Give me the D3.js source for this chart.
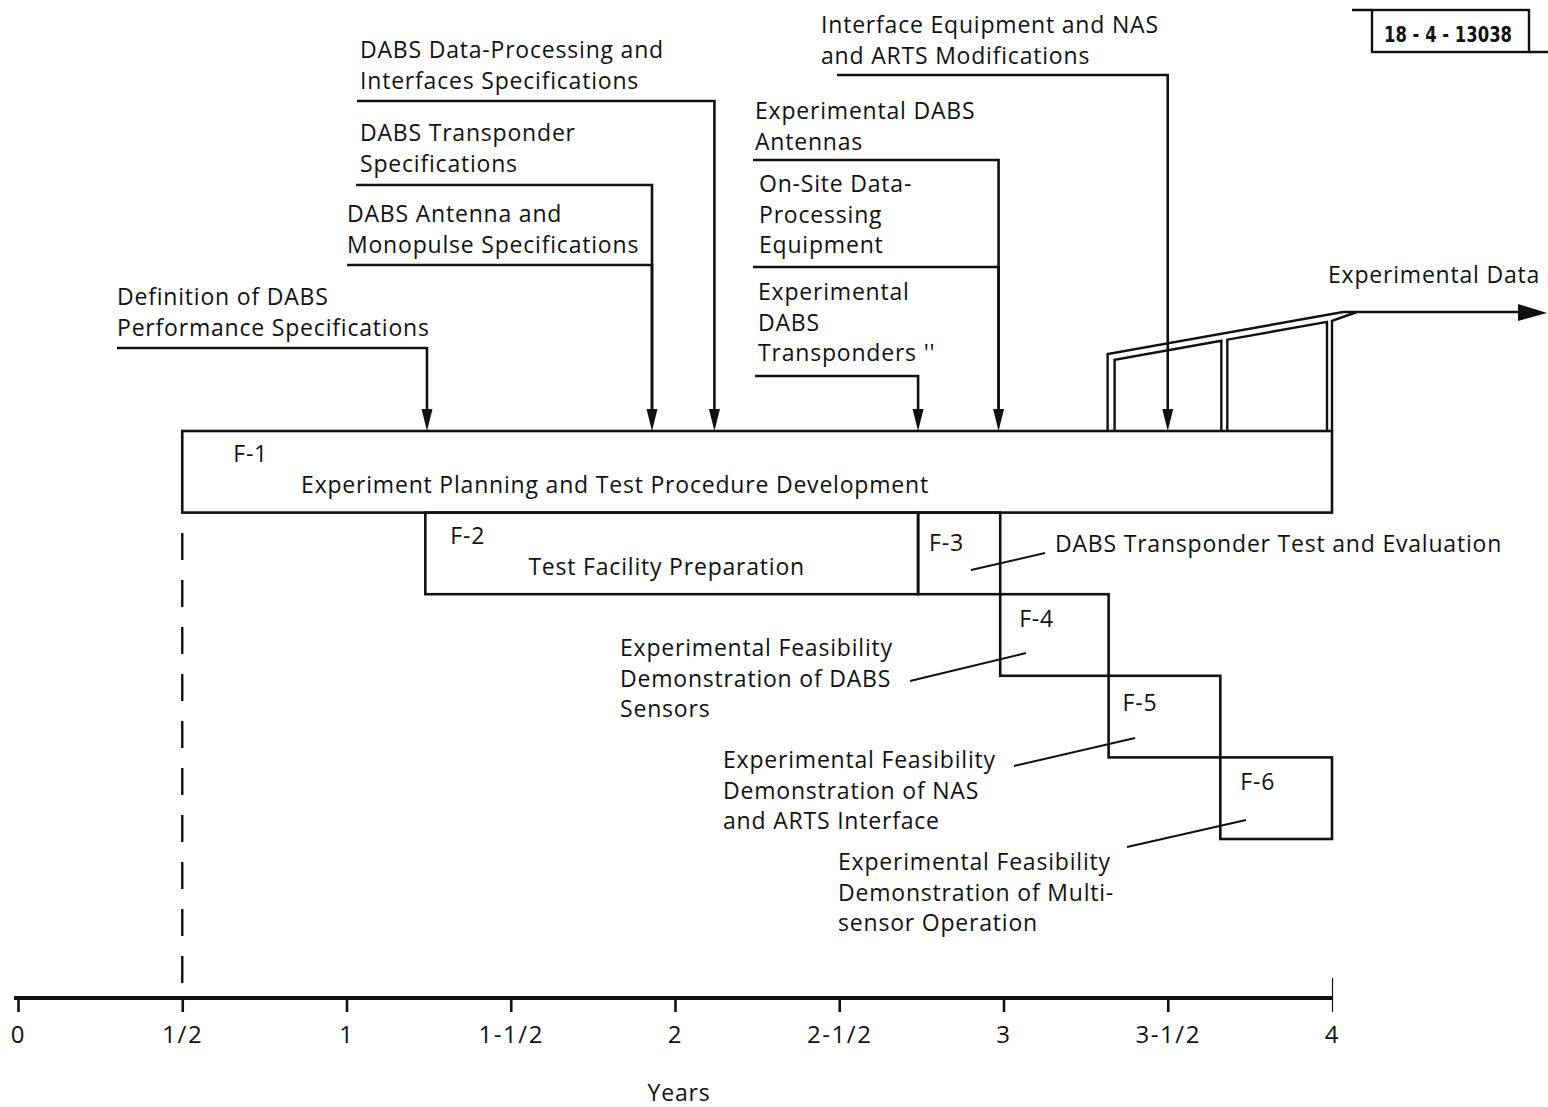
<!DOCTYPE html>
<html>
<head>
<meta charset="utf-8">
<script src="https://cdn.jsdelivr.net/npm/d3@7"></script>
<style>
  body { margin: 0; background: #fff; }
  svg text { font-family: "Open Sans", "DejaVu Sans", sans-serif; fill: #111; letter-spacing: 0.8px; }
</style>
</head>
<body>
<div id="chart"></div>
<script>
// Phases of the experiment (years from program start)
const phaseIds = ["F-1", "F-2", "F-3", "F-4", "F-5", "F-6"];
const phaseStart = [0.5, 1.24, 2.74, 2.99, 3.32, 3.66];
const phaseEnd = [4.0, 2.74, 2.99, 3.32, 3.66, 4.0];
const phaseRow = [0, 1, 1, 2, 3, 4];
const phaseTitles = ["Experiment Planning and Test Procedure Development", "Test Facility Preparation", "", "", "", ""];

// Descriptions pointed at the later phases
const calloutPhase = ["F-3", "F-4", "F-5", "F-6"];
const calloutText = [
    ["DABS Transponder Test and Evaluation"],
    ["Experimental Feasibility", "Demonstration of DABS", "Sensors"],
    ["Experimental Feasibility", "Demonstration of NAS", "and ARTS Interface"],
    ["Experimental Feasibility", "Demonstration of Multi-", "sensor Operation"]
];

// Inputs feeding into F-1 (arrow lands at the given year)
const inputLabels = [
    ["Definition of DABS", "Performance Specifications"],
    ["DABS Antenna and", "Monopulse Specifications"],
    ["DABS Transponder", "Specifications"],
    ["DABS Data-Processing and", "Interfaces Specifications"],
    ["Experimental", "DABS", "Transponders ''"],
    ["On-Site Data-", "Processing", "Equipment"],
    ["Experimental DABS", "Antennas"],
    ["Interface Equipment and NAS", "and ARTS Modifications"]
];
const inputYears = [1.245, 1.93, 1.93, 2.12, 2.74, 2.985, 2.985, 3.5];

// Years axis
const tickValues = [0, 0.5, 1, 1.5, 2, 2.5, 3, 3.5, 4];
const tickLabels = ["0", "1/2", "1", "1-1/2", "2", "2-1/2", "3", "3-1/2", "4"];

// ---- layout (pixels) ----
const W = 1548, H = 1107;
const fs = 23;
const labelLayout = [   // text left, first baseline, underline y, underline start
    {x: 117, y: 305, uy: 348, ux: 117},
    {x: 347, y: 222, uy: 265, ux: 347},
    {x: 360, y: 141, uy: 185, ux: 356},
    {x: 360, y: 58, uy: 101, ux: 357},
    {x: 758, y: 300, uy: 376, ux: 755},
    {x: 759, y: 192, uy: 267, ux: 753},
    {x: 755, y: 119, uy: 160, ux: 753},
    {x: 821, y: 33, uy: 75, ux: 837}
];
const calloutLayout = [  // text left, first baseline, leader from, leader to
    {x: 1055, y: 552, x1: 971, y1: 570, x2: 1045, y2: 553},
    {x: 620, y: 656, x1: 910, y1: 681, x2: 1026, y2: 653},
    {x: 723, y: 768, x1: 1014, y1: 766, x2: 1135, y2: 738},
    {x: 838, y: 870, x1: 1127, y1: 847, x2: 1246, y2: 820}
];
const idOffset = [[51, 31], [25, 31], [11, 38], [19, 33], [14, 35], [20, 33]];
const lineGap = 30.5;

const svg = d3.select("#chart")
    .append("svg")
    .attr("width", W)
    .attr("height", H);

const x = d3.scaleLinear().domain([0, 4]).range([18, 1332]);
const y = d3.scaleBand().domain([0, 1, 2, 3, 4]).range([431, 839]).padding(0);

const ink = "#111";
const sw = 2.6;

// Phase boxes
svg.selectAll("rect.phase")
    .data(phaseIds)
    .enter()
    .append("rect")
    .attr("class", "phase")
    .attr("x", (d, i) => x(phaseStart[i]))
    .attr("y", (d, i) => y(phaseRow[i]))
    .attr("width", (d, i) => x(phaseEnd[i]) - x(phaseStart[i]))
    .attr("height", y.bandwidth())
    .attr("fill", "none")
    .attr("stroke", ink)
    .attr("stroke-width", sw);

svg.selectAll("text.pid")
    .data(phaseIds)
    .enter()
    .append("text")
    .attr("class", "pid")
    .attr("x", (d, i) => x(phaseStart[i]) + idOffset[i][0])
    .attr("y", (d, i) => y(phaseRow[i]) + idOffset[i][1])
    .attr("font-size", fs)
    .text(d => d);

phaseTitles.forEach((t, i) => {
    if (!t) return;
    svg.append("text")
        .attr("x", i === 0 ? 615 : (x(phaseStart[i]) + x(phaseEnd[i])) / 2 - 5)
        .attr("y", y(phaseRow[i]) + 62)
        .attr("text-anchor", "middle")
        .attr("font-size", fs)
        .text(t);
});

// Callouts
calloutText.forEach((lines, i) => {
    const L = calloutLayout[i];
    svg.append("line")
        .attr("x1", L.x1).attr("y1", L.y1)
        .attr("x2", L.x2).attr("y2", L.y2)
        .attr("stroke", ink).attr("stroke-width", 2);
    const t = svg.append("text").attr("font-size", fs);
    lines.forEach((s, k) => {
        t.append("tspan").attr("x", L.x).attr("y", L.y + k * lineGap).text(s);
    });
});

// Inputs with arrows into F-1
const top1 = y(0);
inputLabels.forEach((lines, i) => {
    const L = labelLayout[i];
    const ax = x(inputYears[i]);
    const t = svg.append("text").attr("font-size", fs);
    lines.forEach((s, k) => {
        t.append("tspan").attr("x", L.x).attr("y", L.y + k * lineGap).text(s);
    });
    svg.append("path")
        .attr("d", `M${L.ux},${L.uy}H${ax}V${top1 - 18}`)
        .attr("fill", "none")
        .attr("stroke", ink)
        .attr("stroke-width", sw);
});

// arrowheads (one per landing point)
Array.from(new Set(inputYears)).forEach(v => {
    const ax = x(v);
    svg.append("path")
        .attr("d", `M${ax - 5.5},${top1 - 22}L${ax + 5.5},${top1 - 22}L${ax},${top1}Z`)
        .attr("fill", ink);
});

// Experimental data feedback pipe
const p5 = x(phaseStart[4]), p6 = x(phaseStart[5]), pe = x(phaseEnd[5]);
const slope = (312 - 354) / (1343 - (p5 - 1));
const yAt = (px, off) => 354 + off + slope * (px - (p5 - 1));
const pipe = d3.path();
pipe.moveTo(p5 - 1, top1); pipe.lineTo(p5 - 1, yAt(p5 - 1, 0)); pipe.lineTo(1343, 312); pipe.lineTo(1522, 312);
pipe.moveTo(p5 + 6, top1); pipe.lineTo(p5 + 6, yAt(p5 + 6, 7)); pipe.lineTo(p6 + 1, yAt(p6 + 1, 7)); pipe.lineTo(p6 + 1, top1);
pipe.moveTo(p6 + 7, top1); pipe.lineTo(p6 + 7, yAt(p6 + 7, 7)); pipe.lineTo(pe - 5, yAt(pe - 5, 7)); pipe.lineTo(pe - 5, top1);
pipe.moveTo(pe, top1); pipe.lineTo(pe, yAt(pe, 7)); pipe.lineTo(1357, 312);
svg.append("path")
    .attr("d", pipe.toString())
    .attr("fill", "none")
    .attr("stroke", ink)
    .attr("stroke-width", 2.4)
    .attr("stroke-linejoin", "miter");
svg.append("path")
    .attr("d", "M1518,304L1547,313L1518,321Z")
    .attr("fill", ink);
svg.append("text")
    .attr("x", 1328).attr("y", 283)
    .attr("font-size", fs)
    .text("Experimental Data");

// Dashed marker at 1/2 year
svg.append("line")
    .attr("x1", x(0.5)).attr("x2", x(0.5))
    .attr("y1", 533).attr("y2", 990)
    .attr("stroke", ink)
    .attr("stroke-width", 2.4)
    .attr("stroke-dasharray", "27,20");

// Years axis
const axisY = 998;
const axis = svg.append("g")
    .attr("transform", `translate(0,${axisY})`)
    .call(d3.axisBottom(x)
        .tickValues(tickValues)
        .tickSize(14)
        .tickPadding(14)
        .tickFormat((d, i) => tickLabels[i]));
axis.select(".domain")
    .attr("d", `M${x(0) - 4},0H${x(4)}`)
    .attr("stroke", ink)
    .attr("stroke-width", 4);
axis.selectAll(".tick line")
    .attr("stroke", ink)
    .attr("stroke-width", 2.6);
axis.selectAll(".tick text")
    .attr("font-size", 24)
    .attr("fill", ink)
    .style("font-family", "'Open Sans', sans-serif")
    .style("letter-spacing", "1.6px");
axis.selectAll(".tick").filter(d => d === 4).select("line")
    .attr("y1", -20).attr("stroke-width", 1.2);

svg.append("text")
    .attr("x", 679).attr("y", 1101)
    .attr("text-anchor", "middle")
    .attr("font-size", fs)
    .text("Years");

// Report number box
svg.append("rect")
    .attr("x", 1372).attr("y", 10)
    .attr("width", 157).attr("height", 42)
    .attr("fill", "none")
    .attr("stroke", ink)
    .attr("stroke-width", 2.4);
svg.append("path")
    .attr("d", "M1352,10H1372M1529,52H1548")
    .attr("stroke", ink)
    .attr("stroke-width", 2.4);
svg.append("text")
    .attr("x", 1384).attr("y", 42)
    .attr("font-size", 22)
    .attr("font-weight", "bold")
    .attr("textLength", 128)
    .attr("lengthAdjust", "spacingAndGlyphs")
    .style("letter-spacing", "0px")
    .style("font-family", "'DejaVu Sans Condensed', 'Open Sans', sans-serif")
    .text("18 - 4 - 13038");
</script>
</body>
</html>
